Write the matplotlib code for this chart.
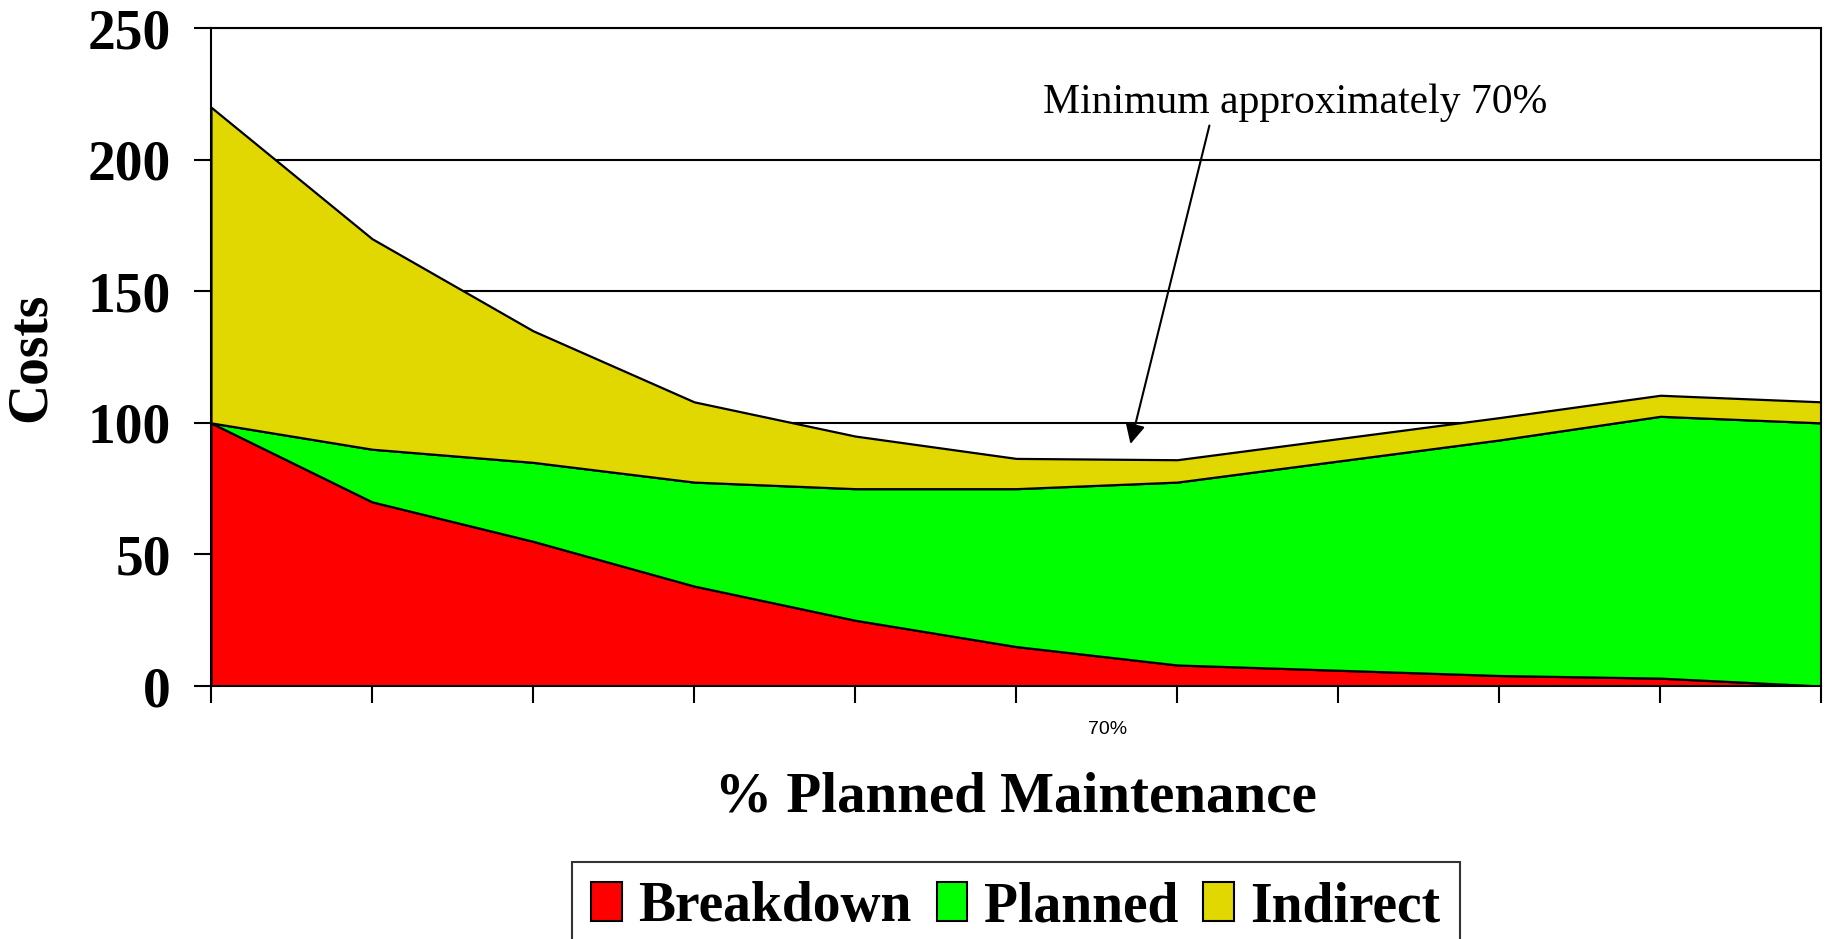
import matplotlib
matplotlib.use("Agg")
import matplotlib.pyplot as plt
from matplotlib.patches import Patch

# 11 equally spaced points on the x axis
x_idx = list(range(11))
breakdown = [100, 70, 55, 38, 25, 15, 8, 6, 4, 3, 0]
planned = [0, 20, 30, 39.5, 50, 60, 69.5, 79.5, 89.5, 99.5, 100]
indirect = [120, 80, 50, 30.5, 20, 11.5, 8.5, 8.5, 8.5, 8, 8]
labels = ["Breakdown", "Planned", "Indirect"]
colors = ["#FF0000", "#00FF00", "#E0D800"]
y_ticks = [0, 50, 100, 150, 200, 250]

serif = ["Liberation Serif", "DejaVu Serif"]

fig = plt.figure(figsize=(18.25, 9.39), dpi=100)
ax = fig.add_axes([0.1156, 0.2694, 0.8824, 0.7006])

ax.stackplot(x_idx, breakdown, planned, indirect, colors=colors,
             edgecolor="black", linewidth=1.6, zorder=2)

ax.set_xlim(0, 10)
ax.set_ylim(0, 250)
ax.set_yticks(y_ticks)
ax.set_xticks(x_idx)
ax.set_xticklabels([])
ax.grid(axis="y", color="black", linewidth=1.5, zorder=0)
ax.set_axisbelow(True)
for sp in ax.spines.values():
    sp.set_color("black")
    sp.set_linewidth(1.5)
ax.tick_params(axis="both", direction="out", length=12, width=1.5, colors="black")
ax.tick_params(axis="y", pad=17)
for t in ax.get_yticklabels():
    t.set_fontfamily(serif)
    t.set_fontweight("bold")
    t.set_fontsize(40)

ax.set_ylabel("Costs", fontfamily=serif, fontweight="bold", fontsize=40, labelpad=22)
ax.set_xlabel("% Planned Maintenance", fontfamily=serif, fontweight="bold", fontsize=41, labelpad=46)

# small category label below the axis
ax.text(5.57, -0.066, "70%", transform=ax.get_xaxis_transform(), ha="center", va="center",
        fontsize=14, fontfamily=["Liberation Sans", "DejaVu Sans"])

ax.text(6.73, 221.5, "Minimum approximately 70%", ha="center", va="center",
        fontsize=30, fontfamily=serif)
ax.annotate("", xy=(5.71, 92), xytext=(6.2, 213),
            arrowprops=dict(arrowstyle="-|>,head_length=0.5,head_width=0.25", color="black",
                            lw=1.5, mutation_scale=24, shrinkA=0, shrinkB=0))

handles = [Patch(facecolor=c, edgecolor="black", linewidth=1.5) for c in colors]
leg = fig.legend(handles, labels, loc="upper center", bbox_to_anchor=(0.5567, 0.112),
                 ncol=3, frameon=True, fancybox=False, edgecolor="black",
                 prop={"family": serif, "weight": "bold", "size": 40},
                 handlelength=0.55, handleheight=0.7, handletextpad=0.3,
                 columnspacing=0.45, borderpad=0.35)
leg.get_frame().set_linewidth(1.5)

fig.savefig("out.png", dpi=100, facecolor="white")
